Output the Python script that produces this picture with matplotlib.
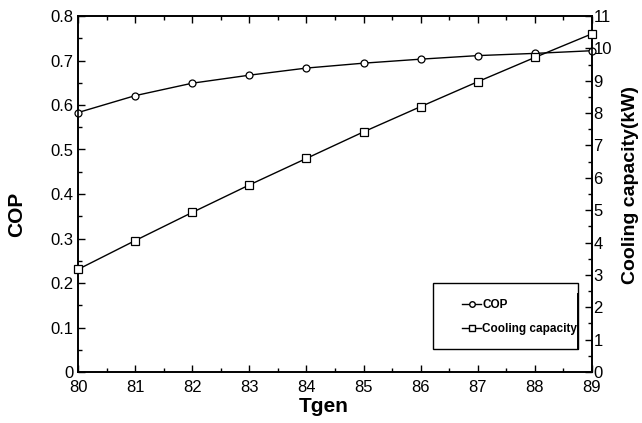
import matplotlib
matplotlib.use("Agg")
import matplotlib.pyplot as plt
from matplotlib.lines import Line2D
from matplotlib.patches import Rectangle
from matplotlib.ticker import MultipleLocator

plt.rcParams['font.family'] = ['Liberation Sans', 'DejaVu Sans']

tgen = [80, 81, 82, 83, 84, 85, 86, 87, 88, 89]
cop = [0.583, 0.621, 0.649, 0.667, 0.683, 0.694, 0.703, 0.711, 0.716, 0.722]
cooling = [3.17, 4.06, 4.93, 5.78, 6.60, 7.42, 8.20, 8.97, 9.72, 10.45]

fig = plt.figure(figsize=(6.42, 4.23), dpi=100)
ax = fig.add_axes([78/642, 1-372/423, 514/642, 356/423])
ax2 = ax.twinx()

ax.plot(tgen, cop, color='black', lw=1, marker='o', ms=5, mfc='white', mec='black', mew=0.9, clip_on=False, zorder=3)
ax2.plot(tgen, cooling, color='black', lw=1, marker='s', ms=6, mfc='white', mec='black', mew=0.9, clip_on=False, zorder=3)

ax.set_xlim(80, 89)
ax.set_ylim(0, 0.8)
ax2.set_ylim(0, 11)
ax.xaxis.set_major_locator(MultipleLocator(1))
ax.xaxis.set_minor_locator(MultipleLocator(0.5))
ax.yaxis.set_major_locator(MultipleLocator(0.1))
ax.yaxis.set_minor_locator(MultipleLocator(0.05))
ax2.yaxis.set_major_locator(MultipleLocator(1))
ax2.yaxis.set_minor_locator(MultipleLocator(0.5))

ax.set_yticks([0, 0.1, 0.2, 0.3, 0.4, 0.5, 0.6, 0.7, 0.8])
ax.set_yticklabels(['0', '0.1', '0.2', '0.3', '0.4', '0.5', '0.6', '0.7', '0.8'])

for a in (ax, ax2):
    a.tick_params(which='major', direction='in', length=5, width=1, labelsize=12, pad=3)
    a.tick_params(which='minor', direction='in', length=3, width=1)
    for s in a.spines.values():
        s.set_linewidth(1.2)
ax.tick_params(axis='x', which='both', top=True)
ax.tick_params(axis='x', pad=6)
ax2.tick_params(axis='y', pad=1)

ax.set_xlabel('Tgen', fontsize=15, fontweight='bold', va='center', ha='center')
ax.xaxis.set_label_coords(0.4786, -0.098)
ax.set_ylabel('COP', fontsize=15, fontweight='bold', va='center', ha='center')
ax.yaxis.set_label_coords(-0.1187, 0.442)
ax2.set_ylabel('Cooling capacity(kW)', fontsize=14, fontweight='bold', va='center', ha='center')
ax2.yaxis.set_label_coords(1.074, 0.525)

handles = [Line2D([], [], color='black', lw=1, marker='o', ms=4, mfc='white', mec='black'),
           Line2D([], [], color='black', lw=1, marker='s', ms=4.5, mfc='white', mec='black')]
leg = ax.legend(handles, ['COP', 'Cooling capacity'], loc='center left',
                bbox_to_anchor=(0.727, 0.155), frameon=False, handlelength=1.6,
                handletextpad=0.1, labelspacing=1.0, prop={'weight': 'bold', 'size': 8.5})
ax.add_patch(Rectangle((0.69, 0.065), 0.283, 0.185, transform=ax.transAxes,
                       fill=False, edgecolor='black', lw=1.0, zorder=5))
ax.plot([0.973, 0.973], [0.065, 0.22], transform=ax.transAxes, color='black', lw=1.4, zorder=5)

fig.savefig('out.png', dpi=100)
